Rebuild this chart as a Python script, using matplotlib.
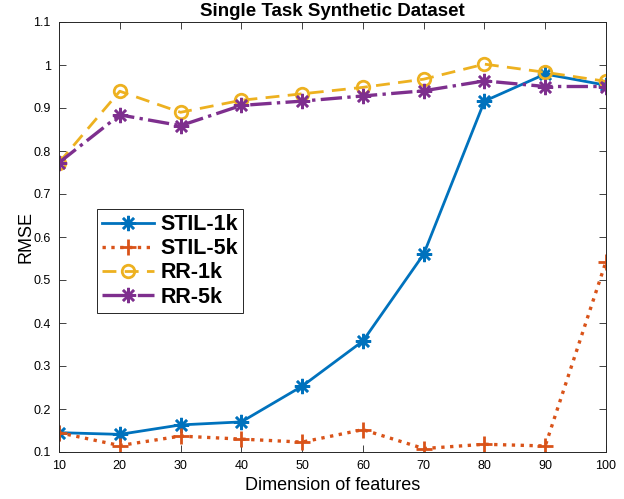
import matplotlib
matplotlib.use("Agg")
import matplotlib.pyplot as plt

plt.rcParams['font.family'] = ['Liberation Sans', 'DejaVu Sans']

dims = [10, 20, 30, 40, 50, 60, 70, 80, 90, 100]
stil_1k = [0.145, 0.141, 0.163, 0.170, 0.253, 0.358, 0.560, 0.916, 0.979, 0.953]
stil_5k = [0.145, 0.115, 0.137, 0.130, 0.123, 0.152, 0.108, 0.118, 0.114, 0.543]
rr_1k = [0.773, 0.939, 0.890, 0.918, 0.933, 0.948, 0.967, 1.002, 0.983, 0.962]
rr_5k = [0.773, 0.884, 0.859, 0.906, 0.916, 0.928, 0.940, 0.963, 0.950, 0.950]
yticks = [0.1, 0.2, 0.3, 0.4, 0.5, 0.6, 0.7, 0.8, 0.9, 1.0, 1.1]
ytick_labels = ['0.1', '0.2', '0.3', '0.4', '0.5', '0.6', '0.7', '0.8', '0.9', '1', '1.1']

fig = plt.figure(figsize=(6.24, 4.99), dpi=100)
ax = fig.add_axes([59/624, 47/499, 547/624, 430/499])

ast = (8, 2, 0)
ax.plot(dims, stil_1k, '-', color='#0072BD', lw=2, marker=ast, ms=11, mew=1.8, label='STIL-1k')
ax.plot(dims, stil_5k, ':', color='#D95319', lw=2.4, marker='+', ms=12, mew=2, label='STIL-5k')
ax.plot(dims, rr_1k, '--', color='#EDB120', lw=2, marker='o', ms=9, mew=2, mfc='none', label='RR-1k',
        dashes=(5, 3))
ax.plot(dims, rr_5k, '-.', color='#7E2F8E', lw=2.4, marker=ast, ms=11, mew=1.8, label='RR-5k')

ax.set_xlim(10, 100)
ax.set_ylim(0.1, 1.1)
ax.set_xticks(dims)
ax.set_yticks(yticks)
ax.set_yticklabels(ytick_labels)
ax.tick_params(direction='in', top=True, right=True, labelsize=9, length=5, width=0.7,
               color='#404040', pad=6)
for s in ax.spines.values():
    s.set_linewidth(0.7)
    s.set_color('#262626')

ax.set_xlabel('Dimension of features', fontsize=13, labelpad=3)
ax.set_ylabel('RMSE', fontsize=13, labelpad=-1)
ax.set_title('Single Task Synthetic Dataset', fontsize=13.5, fontweight='bold', pad=4)

leg = ax.legend(loc='lower left', bbox_to_anchor=(0.069, 0.323), prop={'weight': 'bold', 'size': 15.5},
                fancybox=False, edgecolor='#262626', framealpha=1, handlelength=2.4,
                handletextpad=0.3, borderpad=0.25, labelspacing=0.15, borderaxespad=0)
leg.get_frame().set_linewidth(0.7)

fig.savefig('out.png', dpi=100)
